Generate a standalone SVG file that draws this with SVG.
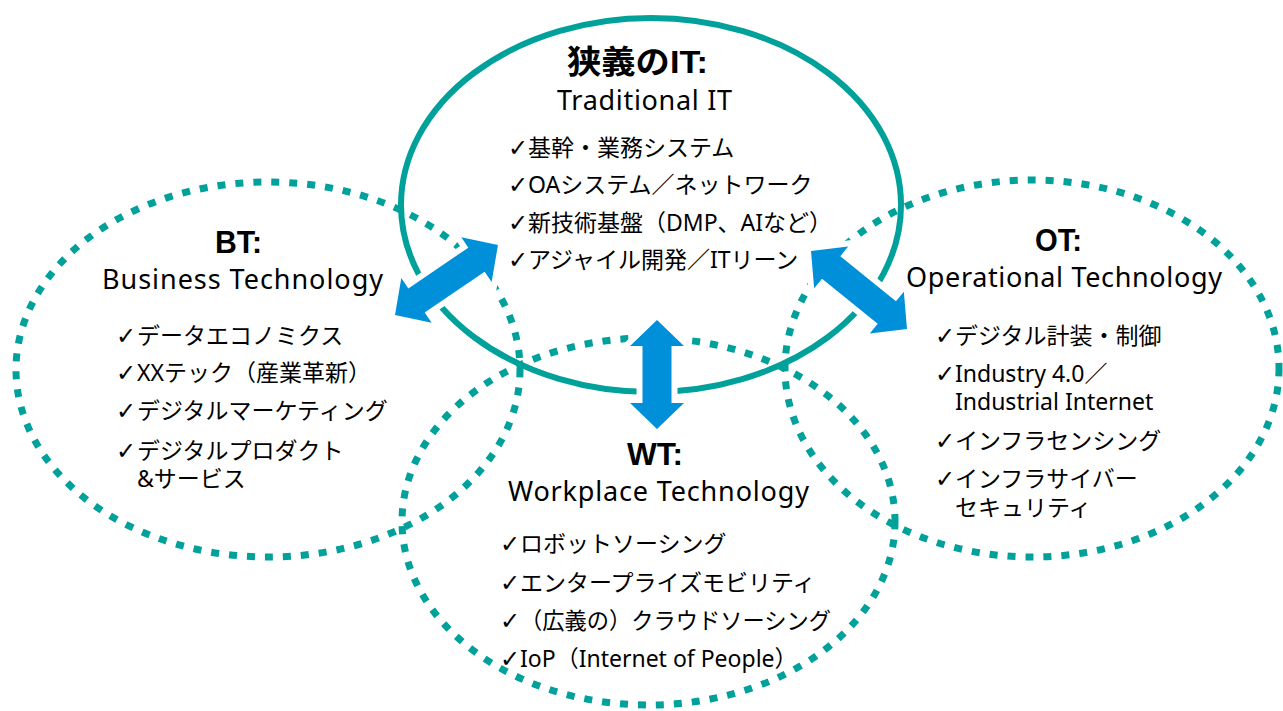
<svg xmlns="http://www.w3.org/2000/svg" width="1283" height="711" viewBox="0 0 1283 711">
<style>
.dot{fill:none;stroke:#00A19A;stroke-width:7;stroke-dasharray:8 10}
.solid{fill:none;stroke:#00A19A;stroke-width:6}
.arr{fill:#0090D9;stroke:#FFFFFF;stroke-width:12;paint-order:stroke;stroke-linejoin:miter}
.h{font-family:"Liberation Sans","Noto Sans CJK JP",sans-serif;font-weight:bold;font-size:32px;fill:#000}
.s{font-family:"Noto Sans","Noto Sans CJK JP",sans-serif;font-size:27px;fill:#000}
.t{font-family:"Noto Sans","Noto Sans CJK JP",sans-serif;font-size:23px;fill:#000}
.ck{font-family:"DejaVu Sans",sans-serif;font-size:24px;font-weight:bold}
</style>
<rect width="1283" height="711" fill="#FFFFFF"/>
<g id="connectors">
<ellipse id="bt-ring" class="dot" cx="268" cy="369.5" rx="252" ry="187.5"/>
<ellipse id="ot-ring" class="dot" cx="1032" cy="368.5" rx="247" ry="188.5"/>
<ellipse id="wt-ring" class="dot" cx="648.5" cy="521.5" rx="246.5" ry="183.5"/>
<ellipse id="it-ring" class="solid" cx="651" cy="205" rx="250" ry="187"/>
<polygon class="arr" transform="translate(395,315) rotate(-34.2)" points="0,0 26,-27 26,-14.5 98.5,-14.5 98.5,-27 124.5,0 98.5,27 98.5,14.5 26,14.5 26,27"/>
<polygon class="arr" transform="translate(811,251) rotate(39.1)" points="0,0 26,-27 26,-14.5 97.7,-14.5 97.7,-27 123.7,0 97.7,27 97.7,14.5 26,14.5 26,27"/>
<polygon class="arr" transform="translate(657,320) rotate(90)" points="0,0 26,-27 26,-14.5 83,-14.5 83,-27 109,0 83,27 83,14.5 26,14.5 26,27"/>
</g>
<g id="it">
<text class="h" x="567" y="73" textLength="141" lengthAdjust="spacingAndGlyphs">狭義のIT:</text>
<text class="s" x="557" y="110" textLength="175">Traditional IT</text>
<text class="t" y="155.5"><tspan class="ck" x="508">✓</tspan><tspan x="528">基幹・業務システム</tspan></text>
<text class="t" y="193"><tspan class="ck" x="508">✓</tspan><tspan x="528">OAシステム／ネットワーク</tspan></text>
<text class="t" y="230.5"><tspan class="ck" x="508">✓</tspan><tspan x="528">新技術基盤（DMP、AIなど）</tspan></text>
<text class="t" y="268"><tspan class="ck" x="508">✓</tspan><tspan x="528">アジャイル開発／ITリーン</tspan></text>
</g>
<g id="bt">
<text class="h" x="215" y="253" textLength="47" lengthAdjust="spacingAndGlyphs">BT:</text>
<text class="s" x="102" y="289" textLength="281">Business Technology</text>
<text class="t" y="343.5"><tspan class="ck" x="116">✓</tspan><tspan x="137">データエコノミクス</tspan></text>
<text class="t" y="381"><tspan class="ck" x="116">✓</tspan><tspan x="137">XXテック（産業革新）</tspan></text>
<text class="t" y="418.5"><tspan class="ck" x="116">✓</tspan><tspan x="137">デジタルマーケティング</tspan></text>
<text class="t" y="458.5"><tspan class="ck" x="116">✓</tspan><tspan x="137">デジタルプロダクト</tspan></text>
<text class="t" x="137" y="487">&amp;サービス</text>
</g>
<g id="ot">
<text class="h" x="1035" y="251" textLength="47" lengthAdjust="spacingAndGlyphs">OT:</text>
<text class="s" x="906" y="287" textLength="316">Operational Technology</text>
<text class="t" y="343.5"><tspan class="ck" x="935">✓</tspan><tspan x="955">デジタル計装・制御</tspan></text>
<text class="t" y="382"><tspan class="ck" x="935">✓</tspan><tspan x="955">Industry 4.0／</tspan></text>
<text class="t" x="955" y="409.5">Industrial Internet</text>
<text class="t" y="448.5"><tspan class="ck" x="935">✓</tspan><tspan x="955">インフラセンシング</tspan></text>
<text class="t" y="486.5"><tspan class="ck" x="935">✓</tspan><tspan x="955">インフラサイバー</tspan></text>
<text class="t" x="955" y="515.5">セキュリティ</text>
</g>
<g id="wt">
<text class="h" x="627" y="465" textLength="56" lengthAdjust="spacingAndGlyphs">WT:</text>
<text class="s" x="508" y="501" textLength="301">Workplace Technology</text>
<text class="t" y="551.5"><tspan class="ck" x="500">✓</tspan><tspan x="520">ロボットソーシング</tspan></text>
<text class="t" y="591"><tspan class="ck" x="500">✓</tspan><tspan x="520">エンタープライズモビリティ</tspan></text>
<text class="t" y="629"><tspan class="ck" x="500">✓</tspan><tspan x="520" textLength="311" lengthAdjust="spacingAndGlyphs">（広義の）クラウドソーシング</tspan></text>
<text class="t" y="667"><tspan class="ck" x="500">✓</tspan><tspan x="520">IoP（Internet of People）</tspan></text>
</g>
</svg>
